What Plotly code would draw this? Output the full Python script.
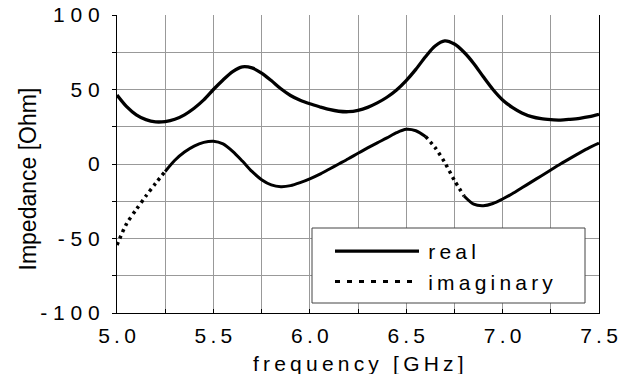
import plotly.graph_objects as go

# ---- data ----
freq = [5.00, 5.05, 5.10, 5.15, 5.20, 5.25, 5.30, 5.35, 5.40, 5.45,
        5.50, 5.55, 5.60, 5.65, 5.70, 5.75, 5.80, 5.85, 5.90, 5.95,
        6.00, 6.05, 6.10, 6.15, 6.20, 6.25, 6.30, 6.35, 6.40, 6.45,
        6.50, 6.55, 6.60, 6.65, 6.70, 6.75, 6.80, 6.85, 6.90, 6.95,
        7.00, 7.05, 7.10, 7.15, 7.20, 7.25, 7.30, 7.35, 7.40, 7.45, 7.50]

real = [46.3, 38.5, 33.0, 29.8, 28.3, 28.5, 30.0, 33.0, 37.4, 43.0,
        50.0, 56.4, 62.0, 65.2, 64.5, 61.0, 56.0, 50.5, 46.0, 42.8,
        40.4, 38.4, 36.6, 35.4, 35.1, 36.0, 38.0, 41.0, 44.8, 49.7,
        56.0, 63.5, 72.0, 79.2, 82.6, 80.5, 75.0, 67.5, 58.5, 50.0,
        43.0, 38.0, 34.3, 31.8, 30.4, 29.8, 29.5, 30.0, 30.7, 31.8, 33.4]

imaginary = [-54.4, -40.0, -30.5, -21.5, -13.0, -5.0, 2.5, 8.0, 12.0, 14.5,
             15.3, 13.5, 8.5, 2.0, -5.0, -10.5, -14.0, -15.2, -14.5, -12.5,
             -10.0, -7.0, -3.5, 0.0, 3.5, 7.2, 10.8, 14.2, 17.5, 21.0,
             23.3, 22.3, 18.5, 11.0, 1.0, -11.0, -21.5, -27.0, -28.0, -26.5,
             -23.5, -20.0, -16.0, -12.0, -8.0, -4.0, 0.0, 3.8, 7.5, 11.0, 14.0]

# frequency ranges where the imaginary curve is drawn dotted in the original
dotted_ranges = [(5.00, 5.25), (6.60, 6.80)]

x_tickvals = [5.0, 5.25, 5.5, 5.75, 6.0, 6.25, 6.5, 6.75, 7.0, 7.25, 7.5]
x_ticktext = ["5.0", "", "5.5", "", "6.0", "", "6.5", "", "7.0", "", "7.5"]
y_tickvals = [-100, -75, -50, -25, 0, 25, 50, 75, 100]
y_ticktext = ["-100", "", "-50", "", "0", "", "50", "", "100"]

real_name = "real"
imag_name = "imaginary"
x_title = "frequency [GHz]"
y_title = "Impedance [Ohm]"

THIN = "\u2009"


def spaced(s, sep):
    return sep.join(list(s))


def in_dotted(f):
    return any(a - 1e-9 <= f <= b + 1e-9 for a, b in dotted_ranges)


def is_boundary(f):
    return any(abs(f - a) < 1e-9 or abs(f - b) < 1e-9 for a, b in dotted_ranges)


imag_dotted = [v if in_dotted(f) else None for f, v in zip(freq, imaginary)]
imag_solid = [v if (not in_dotted(f) or is_boundary(f)) else None
              for f, v in zip(freq, imaginary)]

fig = go.Figure()

fig.add_trace(go.Scatter(
    x=freq, y=real, mode="lines", name=THIN + spaced(real_name, THIN),
    line=dict(color="black", width=3.3, shape="spline", smoothing=0.8),
))
fig.add_trace(go.Scatter(
    x=freq, y=imag_solid, mode="lines", showlegend=False,
    line=dict(color="black", width=3.0, shape="spline", smoothing=0.8),
    connectgaps=False,
))
fig.add_trace(go.Scatter(
    x=freq, y=imag_dotted, mode="lines", showlegend=False,
    line=dict(color="black", width=3.5, shape="spline", smoothing=0.8,
              dash="3px,4px"),
    connectgaps=False,
))
# legend entry for the imaginary part
fig.add_trace(go.Scatter(
    x=[None], y=[None], mode="lines",
    name=THIN + spaced(imag_name, THIN),
    line=dict(color="black", width=3.0, dash="5px,7px"),
))

FONT = "Liberation Sans, Arial, sans-serif"

# plot-area pixel geometry (for placing legend frame / titles)
PL, PR, PT, PB = 117, 599, 15, 313
PW, PH = PR - PL, PB - PT


def px(xp):
    return (xp - PL) / PW


def py(yp):
    return (PB - yp) / PH


fig.update_layout(
    width=631, height=374,
    margin=dict(l=PL, r=631 - PR, t=PT, b=374 - PB, autoexpand=False),
    paper_bgcolor="white", plot_bgcolor="white",
    font=dict(family=FONT, color="black", size=21),
    showlegend=True,
    legend=dict(
        x=px(330), y=py(231),
        xanchor="left", yanchor="top",
        bgcolor="rgba(0,0,0,0)", borderwidth=0,
        font=dict(family=FONT, size=21, color="black"),
        itemwidth=84,
        tracegroupgap=0,
    ),
    shapes=[
        dict(type="rect", xref="paper", yref="paper",
             x0=px(312), x1=px(585), y0=py(303), y1=py(228),
             fillcolor="white", line=dict(color="#444", width=1),
             layer="above"),
    ],
    xaxis=dict(
        range=[5.0, 7.5], tickmode="array",
        tickvals=x_tickvals,
        ticktext=[spaced(t, THIN) for t in x_ticktext],
        showgrid=True, gridcolor="#999", gridwidth=1,
        showline=True, linecolor="black", linewidth=1.2, mirror=False,
        ticks="inside", ticklen=4, tickcolor="black",
        tickfont=dict(family=FONT, size=21),
        ticklabelstandoff=4,
        zeroline=False, automargin=False,
    ),
    yaxis=dict(
        range=[-100, 100], tickmode="array",
        tickvals=y_tickvals,
        ticktext=[spaced(t, " ") for t in y_ticktext],
        showgrid=True, gridcolor="#999", gridwidth=1,
        showline=True, linecolor="black", linewidth=1.2, mirror=True,
        ticks="outside", ticklen=4, tickcolor="black",
        tickfont=dict(family=FONT, size=21),
        ticklabelstandoff=8,
        zeroline=False, automargin=False,
    ),
    annotations=[
        dict(text=spaced(x_title, THIN), xref="paper", yref="paper",
             x=0.5, y=py(377), xanchor="center", yanchor="bottom",
             showarrow=False, font=dict(family=FONT, size=21)),
        dict(text=y_title, xref="paper", yref="paper",
             x=px(27), y=py(179.5),
             xanchor="center", yanchor="middle", textangle=-90,
             showarrow=False, font=dict(family=FONT, size=23)),
    ],
)

fig.write_html(
    "out.html",
    config={"displayModeBar": False},
    post_script="document.body.style.margin='0';document.body.style.padding='0';",
)
